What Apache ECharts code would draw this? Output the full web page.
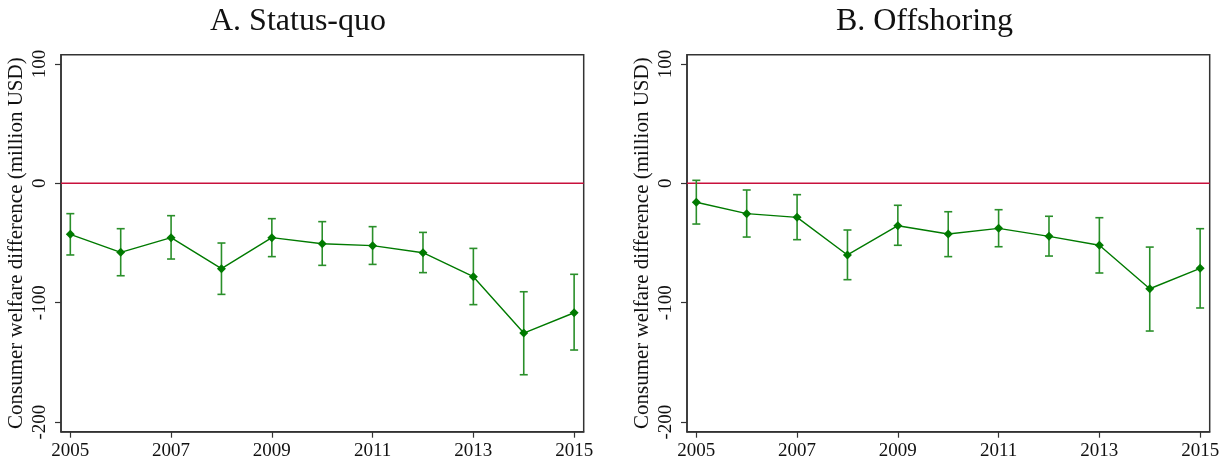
<!DOCTYPE html>
<html>
<head>
<meta charset="utf-8">
<script src="https://cdn.jsdelivr.net/npm/echarts@6/dist/echarts.min.js"></script>
<style>html,body{margin:0;padding:0;background:#fff}#c{width:1231px;height:466px}</style>
</head>
<body>
<div id="c"></div>
<script>
const years = [2005,2006,2007,2008,2009,2010,2011,2012,2013,2014,2015];
const xTicks = [2005,2007,2009,2011,2013,2015];
const yTicks = [-200,-100,0,100];
const titles = ['A. Status-quo','B. Offshoring'];
const yName = 'Consumer welfare difference (million USD)';
const refValue = 0;

const statusEst  = [-42.7,-57.8,-45.5,-71.5,-45.5,-50.6,-52.2,-58.1,-78.2,-125.4,-108.4];
const statusLow  = [-60.0,-77.4,-63.4,-93.0,-61.4,-68.7,-67.9,-74.8,-101.6,-160.3,-139.6];
const statusHigh = [-25.4,-38.0,-27.1,-50.0,-29.6,-32.1,-36.3,-41.1,-54.5,-90.8,-76.2];

const offEst  = [-15.9,-25.4,-28.5,-60.0,-35.5,-42.5,-37.7,-44.4,-51.9,-88.3,-71.2];
const offLow  = [-34.1,-45.0,-47.2,-80.7,-51.9,-61.4,-53.1,-60.9,-75.1,-123.7,-104.4];
const offHigh = [2.5,-5.6,-9.5,-39.1,-18.4,-23.8,-22.1,-27.6,-28.8,-53.4,-38.0];

const panels = [
  {est: statusEst, low: statusLow, high: statusHigh},
  {est: offEst, low: offLow, high: offHigh}
];

const FONT = '"Liberation Serif", "Times New Roman", serif';
const lineGreen = '#007a00';
const barGreen = '#2a8f2a';
const refColor = '#c8103c';

const X_MIN = 2004.815, X_MAX = 2015.19;
const gridLefts = [61, 687];
const titleCenters = [293, 919.5];
const gridW = 522.7;

const option = {
  animation: false,
  backgroundColor: '#fff',
  title: titles.map((t,i) => ({
    text: t,
    left: titleCenters[i],
    top: 1,
    textAlign: 'center',
    textStyle: {fontFamily: FONT, fontSize: 32, fontWeight: 'normal', color: '#111'}
  })),
  grid: gridLefts.map(l => ({
    left: l, top: 54.7, width: gridW, height: 377,
    show: true, borderColor: '#333', borderWidth: 1.5, backgroundColor: '#fff'
  })),
  xAxis: [0,1].map(i => ({
    type: 'value', gridIndex: i, min: X_MIN, max: X_MAX,
    axisLine: {show: true, onZero: false, lineStyle: {color: '#333', width: 1.5}},
    axisTick: {show: true, length: 6, customValues: xTicks, lineStyle: {color: '#333', width: 1.2}},
    axisLabel: {customValues: xTicks, fontFamily: FONT, fontSize: 19, color: '#111', margin: 10,
      formatter: v => String(v)},
    splitLine: {show: false}
  })),
  yAxis: [0,1].map(i => ({
    type: 'value', gridIndex: i, min: -208, max: 107.7,
    name: yName, nameLocation: 'middle', nameRotate: 90, nameGap: 34,
    nameTextStyle: {fontFamily: FONT, fontSize: 21, color: '#111'},
    axisLine: {show: true, onZero: false, lineStyle: {color: '#333', width: 1.5}},
    axisTick: {show: true, length: 6, customValues: yTicks, lineStyle: {color: '#333', width: 1.2}},
    axisLabel: {customValues: yTicks, rotate: 90, fontFamily: FONT, fontSize: 19, color: '#111', margin: 11,
      formatter: v => String(v)},
    splitLine: {show: false}
  })),
  series: []
};

panels.forEach((p, i) => {
  option.series.push({
    type: 'line', xAxisIndex: i, yAxisIndex: i, z: 2, silent: true,
    data: [[X_MIN, refValue], [X_MAX, refValue]],
    symbol: 'none', showSymbol: false,
    lineStyle: {color: refColor, width: 1.4},
    itemStyle: {color: refColor}
  });
  option.series.push({
    type: 'custom', xAxisIndex: i, yAxisIndex: i, silent: true, z: 3,
    data: years.map((y, k) => [y, p.low[k], p.high[k]]),
    renderItem: function (params, api) {
      const x = api.value(0);
      const lo = api.coord([x, api.value(1)]);
      const hi = api.coord([x, api.value(2)]);
      const hw = 4;
      const st = {stroke: barGreen, lineWidth: 1.6};
      return {type: 'group', children: [
        {type: 'line', shape: {x1: lo[0], y1: lo[1], x2: hi[0], y2: hi[1]}, style: st},
        {type: 'line', shape: {x1: lo[0]-hw, y1: lo[1], x2: lo[0]+hw, y2: lo[1]}, style: st},
        {type: 'line', shape: {x1: hi[0]-hw, y1: hi[1], x2: hi[0]+hw, y2: hi[1]}, style: st}
      ]};
    }
  });
  option.series.push({
    type: 'line', xAxisIndex: i, yAxisIndex: i, z: 4,
    data: years.map((y, k) => [y, p.est[k]]),
    symbol: 'diamond', symbolSize: 9, showSymbol: true,
    lineStyle: {color: lineGreen, width: 1.4},
    itemStyle: {color: lineGreen}
  });
});

const chart = echarts.init(document.getElementById('c'), null, {renderer: 'canvas'});
chart.setOption(option);
</script>
</body>
</html>
